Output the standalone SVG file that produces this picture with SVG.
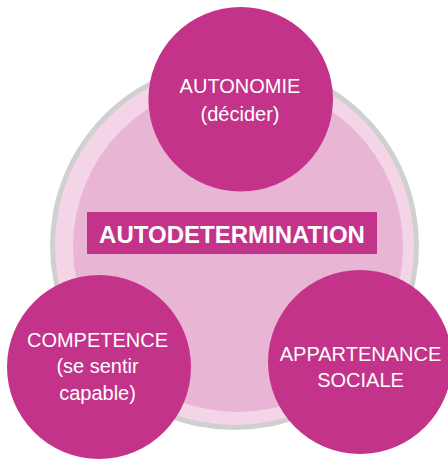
<svg xmlns="http://www.w3.org/2000/svg" width="448" height="459" viewBox="0 0 448 459">
<style>
.node{fill:#c4338a}
.lbl{font-family:"Liberation Sans",Arial,sans-serif;font-size:20px;fill:#ffffff;text-anchor:middle}
.title{font-family:"Liberation Sans",Arial,sans-serif;font-size:24px;font-weight:bold;fill:#ffffff;text-anchor:middle}
</style>
<rect width="448" height="459" fill="#ffffff"/>
<g id="center">
<circle cx="234.5" cy="245.5" r="184.5" fill="#d0d0d0"/>
<circle cx="234.5" cy="245.5" r="179.5" fill="#f4d5e8"/>
<circle cx="238" cy="247" r="165" fill="#e9b5d4"/>
<rect x="87" y="212" width="290" height="42" class="node"/>
<text class="title" x="232" y="243">AUTODETERMINATION</text>
</g>
<g id="connectors"></g>
<g id="autonomie">
<circle cx="240.7" cy="99.3" r="92.3" class="node"/>
<text class="lbl" x="240" y="93">AUTONOMIE</text>
<text class="lbl" x="240" y="121">(décider)</text>
</g>
<g id="competence">
<circle cx="99" cy="367" r="92" class="node"/>
<text class="lbl" x="97.5" y="347">COMPETENCE</text>
<text class="lbl" x="97.5" y="373">(se sentir</text>
<text class="lbl" x="97.5" y="399.5">capable)</text>
</g>
<g id="appartenance">
<circle cx="360" cy="362" r="92" class="node"/>
<text class="lbl" x="360.5" y="361">APPARTENANCE</text>
<text class="lbl" x="360.5" y="386.5">SOCIALE</text>
</g>
</svg>
